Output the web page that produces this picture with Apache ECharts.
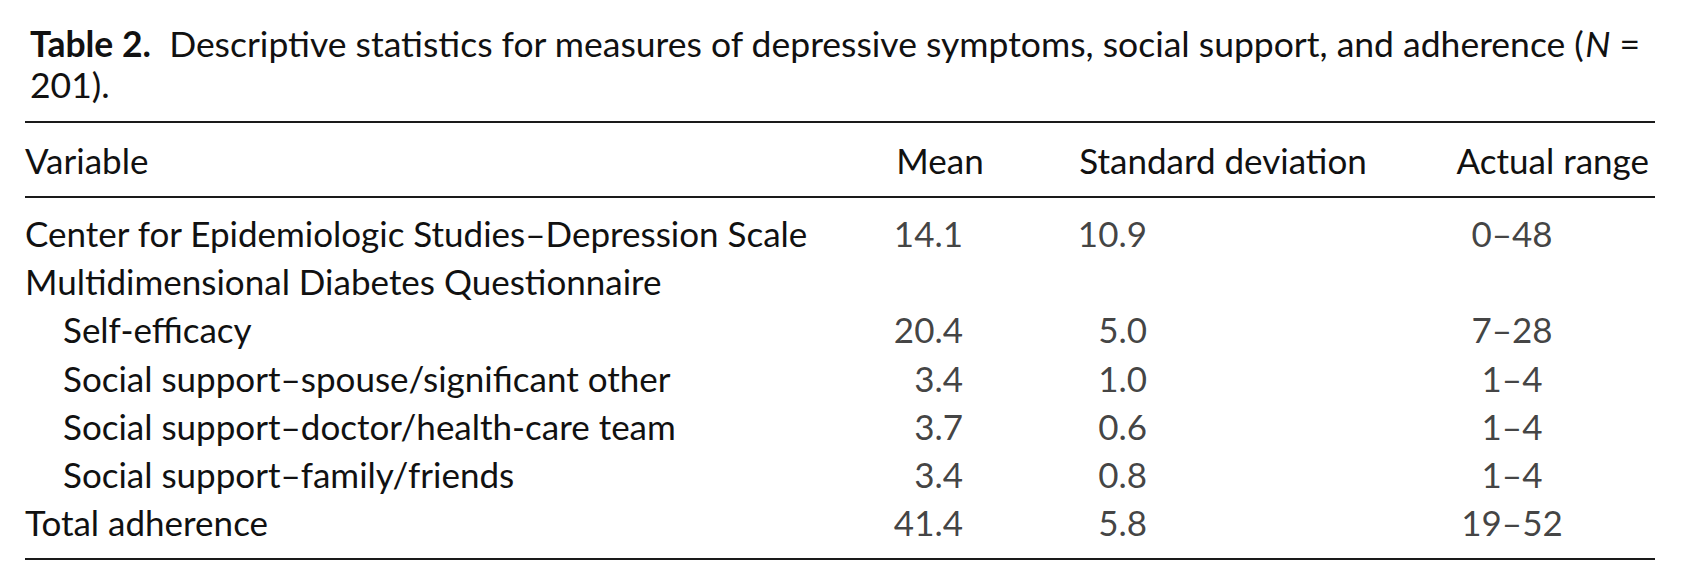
<!DOCTYPE html>
<html>
<head>
<meta charset="utf-8">
<script src="https://cdn.jsdelivr.net/npm/echarts@6/dist/echarts.min.js"></script>
<style>
  html, body { margin: 0; padding: 0; background: #fff; }
  #main { width: 1681px; height: 585px; }
</style>
</head>
<body>
<div id="main"></div>
<script>
// table contents
const tableNo = 'Table 2.';
const caption = 'Descriptive statistics for measures of depressive symptoms, social support, and adherence';
const sampleSize = 201;
const headers = ['Variable', 'Mean', 'Standard deviation', 'Actual range'];
const variables = [
  'Center for Epidemiologic Studies–Depression Scale',
  'Multidimensional Diabetes Questionnaire',
  'Self-efficacy',
  'Social support–spouse/significant other',
  'Social support–doctor/health-care team',
  'Social support–family/friends',
  'Total adherence'
];
const indented = [false, false, true, true, true, true, false];
const means = [14.1, null, 20.4, 3.4, 3.7, 3.4, 41.4];
const sds = [10.9, null, 5.0, 1.0, 0.6, 0.8, 5.8];
const ranges = ['0–48', '', '7–28', '1–4', '1–4', '1–4', '19–52'];

const FONT = 'Lato';
const FS = 35;
const TFS = 35.5;
const INK = '#111';

// column anchors, in grid pixels from the left edge of the table
const colMean = 938, colSd = 1122, colRange = 1487;

const chart = echarts.init(document.getElementById('main'), null, { renderer: 'svg' });

function cells(vals, x, fmt) {
  const out = [];
  vals.forEach((v, i) => {
    if (v === null || v === '') return;
    out.push({ value: [x, variables[i]], label: { formatter: fmt(v) } });
  });
  return out;
}

function textSeries(name, data, align) {
  return {
    name: name,
    type: 'scatter',
    symbolSize: 0,
    silent: true,
    data: data,
    label: {
      show: true,
      position: 'inside',
      align: align,
      verticalAlign: 'middle',
      fontFamily: FONT,
      fontSize: FS,
      color: INK
    }
  };
}

const W = 1630;
const rule = (y) => ({
  type: 'line',
  shape: { x1: 25, y1: y, x2: 25 + W, y2: y },
  style: { stroke: '#1a1a1a', lineWidth: 2 }
});
const head = (text, x, align) => ({
  type: 'text',
  x: x, y: 160,
  style: { text: text, fill: INK, fontFamily: FONT, fontSize: FS, align: align, verticalAlign: 'middle' }
});

chart.setOption({
  backgroundColor: '#fff',
  animation: false,
  title: {
    left: 25,
    top: 18,
    text: '{b|' + tableNo + '}  ' + caption + ' ({i|N} =\n' + sampleSize + ').',
    textStyle: {
      fontFamily: FONT,
      fontSize: TFS,
      fontWeight: 'normal',
      color: INK,
      lineHeight: 41,
      rich: {
        b: { fontFamily: FONT, fontSize: TFS, fontWeight: 'bold', color: INK, lineHeight: 41 },
        i: { fontFamily: FONT, fontSize: TFS, fontStyle: 'italic', color: INK, lineHeight: 41 }
      }
    }
  },
  grid: { left: 25, right: 26, top: 209, height: 337 },
  xAxis: {
    type: 'value',
    min: 0,
    max: W,
    show: false
  },
  yAxis: {
    type: 'category',
    inverse: true,
    data: variables,
    axisLine: { show: false },
    axisTick: { show: false },
    splitLine: { show: false },
    axisLabel: {
      align: 'left',
      margin: 0,
      fontFamily: FONT,
      fontSize: FS,
      color: INK,
      formatter: (v, i) => indented[i] ? '{ind|' + v + '}' : v,
      rich: { ind: { padding: [0, 0, 0, 38], fontFamily: FONT, fontSize: FS, color: INK } }
    }
  },
  series: [
    textSeries('Mean', cells(means, colMean, v => v.toFixed(1)), 'right'),
    textSeries('Standard deviation', cells(sds, colSd, v => v.toFixed(1)), 'right'),
    textSeries('Actual range', cells(ranges, colRange, v => v), 'center')
  ],
  graphic: [
    rule(122),
    rule(197),
    rule(559),
    head(headers[0], 25, 'left'),
    head(headers[1], 940, 'center'),
    head(headers[2], 1223, 'center'),
    head(headers[3], 1649, 'right')
  ]
});
</script>
</body>
</html>
